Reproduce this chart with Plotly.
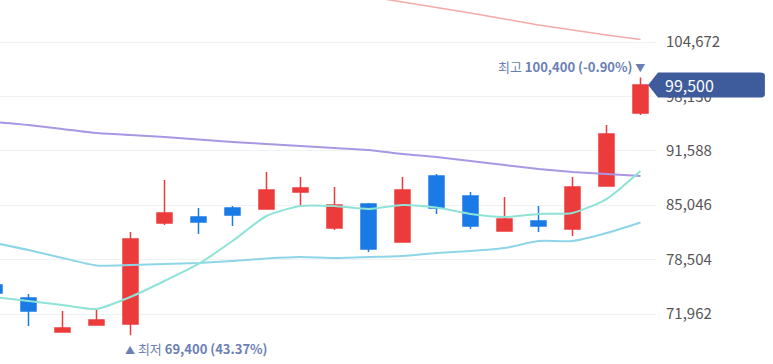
import plotly.graph_objects as go

# ---- data ----
idx = list(range(20))
open_ = [75450, 73890, 69800, 70640, 70760, 82910, 83630, 84710, 84590, 86630,
         82300, 85190, 80620, 88560, 86150, 81950, 83150, 82190, 87360, 96130]
high = [75700, 74370, 72330, 72570, 81820, 88080, 84710, 84950, 89040, 88440,
        87240, 85300, 88440, 88800, 86630, 86030, 84950, 88440, 94690, 100400]
low = [74300, 70520, 69800, 70640, 69400, 82670, 81580, 82550, 84590, 84830,
       82070, 79420, 80620, 83990, 82190, 81950, 81820, 81340, 87360, 95890]
close = [74490, 72330, 70280, 71240, 80980, 84110, 83030, 83870, 86880, 87120,
         85070, 79780, 86880, 84710, 82550, 83390, 82550, 87240, 93610, 99500]

ma5 = [74010, 73530, 73050, 72570, 74010, 75930, 77980, 80740, 83750, 84950,
       84950, 84590, 85070, 84770, 83990, 83630, 83990, 84110, 85790, 89160]
ma20 = [80500, 79660, 78700, 77800, 77860, 77980, 78100, 78340, 78640, 78820,
        78700, 78820, 78940, 79300, 79540, 79900, 80740, 81700, 82970, 82970]
ma60 = [95050, 94690, 94210, 93730, 93490, 93250, 92950, 92650, 92410, 92170,
        91930, 91690, 91200, 90840, 90360, 89880, 89400, 89040, 88800, 88560]
ma120_idx = [10, 11, 12, 13, 14, 15, 16, 17, 18, 19]
ma120 = [110800, 110140, 109480, 108820, 108160, 107440, 106720, 106120, 105510, 104970]

tick_vals = [71962, 78504, 85046, 91588, 98130, 104672]
tick_text = ["71,962", "78,504", "85,046", "91,588", "98,130", "104,672"]

last_price = 99500
high_label = ("최고 ", "100,400 (-0.90%)")
low_label = ("최저 ", "69,400 (43.37%)")

RED = "#ec3b3b"
BLUE = "#1a7ae6"
FONT = "Noto Sans CJK KR"

ma20[-1] = 82970
ma20[-2] = 81700
ma20[-3] = 80740

fig = go.Figure()

fig.add_trace(go.Scatter(x=idx, y=ma20, mode="lines",
                         line=dict(color="#8ed5e8", width=2, shape="spline", smoothing=0.6),
                         hoverinfo="skip"))
fig.add_trace(go.Scatter(x=idx, y=ma60, mode="lines",
                         line=dict(color="#a897e3", width=2, shape="spline", smoothing=0.6),
                         hoverinfo="skip"))
fig.add_trace(go.Scatter(x=ma120_idx, y=ma120, mode="lines",
                         line=dict(color="#f5a9a9", width=1.5, shape="spline", smoothing=0.6),
                         hoverinfo="skip"))
fig.add_trace(go.Scatter(x=idx, y=ma5, mode="lines",
                         line=dict(color="#8fe3d6", width=2, shape="spline", smoothing=0.6),
                         hoverinfo="skip"))

fig.add_trace(go.Candlestick(
    x=idx, open=open_, high=high, low=low, close=close,
    increasing=dict(line=dict(color=RED, width=1.5), fillcolor=RED),
    decreasing=dict(line=dict(color=BLUE, width=1.5), fillcolor=BLUE),
    whiskerwidth=0, hoverinfo="skip"))

y_top = 109722
y_bot = 65952

fig.update_layout(
    width=773, height=364,
    margin=dict(l=0, r=117, t=0, b=0),
    paper_bgcolor="white", plot_bgcolor="white",
    showlegend=False,
    boxgap=0.37,
    hovermode=False,
    font=dict(family=FONT),
    xaxis=dict(range=[0.162, 19.456], visible=False, rangeslider=dict(visible=False),
               fixedrange=True),
    yaxis=dict(range=[y_bot, y_top], side="right", tickvals=tick_vals, ticktext=tick_text,
               showgrid=True, gridcolor="#eef2f4", gridwidth=1, zeroline=False,
               showline=False, ticks="", ticklabelstandoff=9, fixedrange=True,
               tickfont=dict(size=15, color="#555555", family=FONT)),
)

fig.add_annotation(x=19, y=high[19], xref="x", yref="y", xanchor="right", yanchor="bottom",
                   xshift=6, yshift=0, showarrow=False,
                   text=(f"{high_label[0]}<b>{high_label[1]}</b> "
                         "<span style='font-size:10px'>▼</span>"),
                   font=dict(size=13, color="#6b7fb5", family=FONT))
fig.add_annotation(x=4, y=low[4], xref="x", yref="y", xanchor="left", yanchor="top",
                   xshift=-7, yshift=-2, showarrow=False,
                   text=(f"<span style='font-size:10px'>▲</span> "
                         f"{low_label[0]}<b>{low_label[1]}</b>"),
                   font=dict(size=13, color="#6b7fb5", family=FONT))

h = 1503
x0, x1, x2 = 0.988, 1.003, 1.166
path = (f"M {x0},{last_price} L {x1},{last_price + h} L {x2 - 0.008},{last_price + h} "
        f"Q {x2},{last_price + h} {x2},{last_price + h - 300} "
        f"L {x2},{last_price - h + 300} Q {x2},{last_price - h} {x2 - 0.008},{last_price - h} "
        f"L {x1},{last_price - h} Z")
fig.add_shape(type="path", path=path, xref="paper", yref="y",
              fillcolor="#3e5b9b", line=dict(width=0), layer="above")
fig.add_annotation(x=1.01, y=last_price, xref="paper", yref="y", xanchor="left",
                   yanchor="middle", showarrow=False, text=f"{last_price:,}",
                   font=dict(size=16, color="white", family=FONT))

fig.write_html("out.html", config={"displayModeBar": False},
               post_script="document.body.style.margin='0';")
